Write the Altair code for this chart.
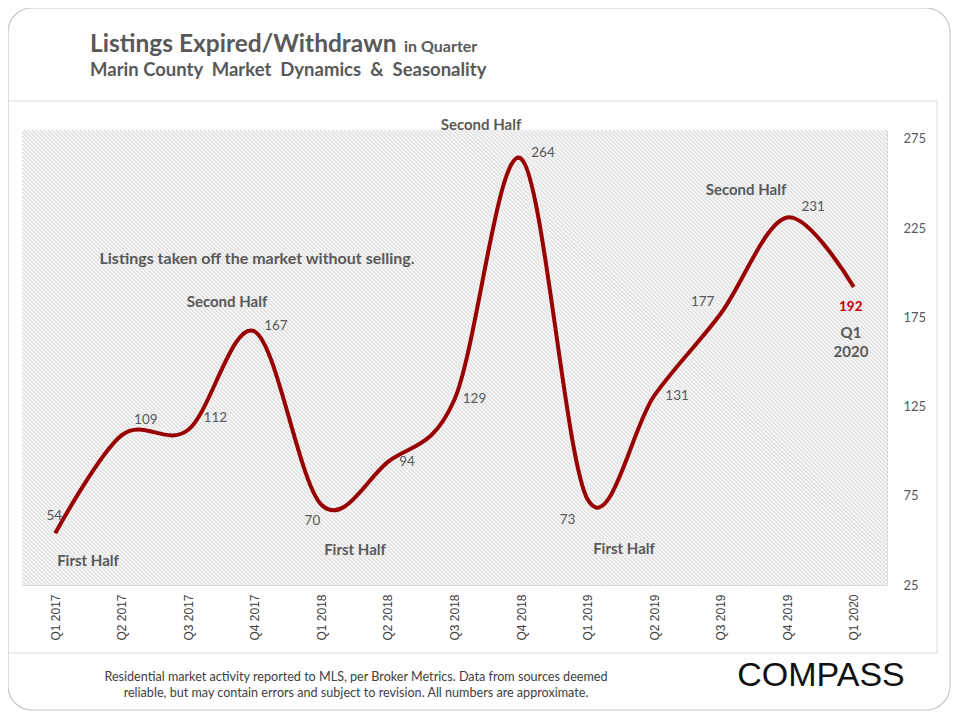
import altair as alt
import pandas as pd

# ---- data ----
quarters = ["Q1 2017", "Q2 2017", "Q3 2017", "Q4 2017", "Q1 2018", "Q2 2018", "Q3 2018",
            "Q4 2018", "Q1 2019", "Q2 2019", "Q3 2019", "Q4 2019", "Q1 2020"]
listings = [54, 109, 112, 167, 70, 94, 129, 264, 73, 131, 177, 231, 192]
y_ticks = [25, 75, 125, 175, 225, 275]

df = pd.DataFrame({"q": quarters, "v": listings})

# ---- layout constants (plot area in page px: x 22..887, y 130..585) ----
W, H = 865, 455
GRAY = "#595959"
RED = "#990000"
FONT = "Lato"

# label offsets (style) per point: dx, dy
label_offsets = [(-1, -17), (24, -15), (27, -12), (21, -6), (-9, 16), (19, 0), (20, 0),
                 (22, -6), (-20, 21), (23, 0), (-18, -12), (26, -10), (-3, 20)]

xscale = alt.Scale(domain=quarters, paddingInner=0, paddingOuter=0)
yscale = alt.Scale(domain=[25, 280], nice=False, zero=False)

one = alt.InlineData(values=[{"a": 1}])

# hatch background via striped linear gradient
N = 432
stops = []
for k in range(N):
    stops.append(alt.GradientStop(offset=k / N, color="#ffffff"))
    stops.append(alt.GradientStop(offset=(k + 0.5) / N, color="#dadada"))
stops.append(alt.GradientStop(offset=1.0, color="#ffffff"))
hatch_grad = alt.LinearGradient(gradient="linear", stops=stops, x1=0, y1=1, x2=1, y2=0)

hatch = alt.Chart(one).mark_rect(clip=True, fill=hatch_grad, strokeWidth=0).encode(
    x=alt.value(0), x2=alt.value(W), y=alt.value(0), y2=alt.value(W)
)

base = alt.Chart(df)

line = base.mark_line(interpolate="cardinal", tension=0, color=RED, strokeWidth=4).encode(
    x=alt.X("q:O", sort=None, scale=xscale, title=None,
            axis=alt.Axis(orient="bottom", labelAngle=270, labelPadding=9, ticks=False,
                          tickBand="extent", grid=True, gridColor="#d9d9d9", gridWidth=1,
                          domain=False, labelFont="Liberation Sans", labelFontSize=12,
                          labelColor="#404040", labelAlign="right", labelBaseline="middle")),
    y=alt.Y("v:Q", scale=yscale, title=None,
            axis=alt.Axis(orient="right", values=y_ticks, ticks=False, domain=False,
                          grid=True, gridColor="#d9d9d9", gridWidth=1, labelPadding=16,
                          labelFont=FONT, labelFontSize=13, labelColor=GRAY)),
)

labels = []
for i, (q, v) in enumerate(zip(quarters, listings)):
    dx, dy = label_offsets[i]
    last = i == len(quarters) - 1
    labels.append(
        alt.Chart(pd.DataFrame({"q": [q], "v": [v]})).mark_text(
            dx=dx, dy=dy, font=FONT, fontSize=13.5,
            color="#C00000" if last else GRAY,
            fontWeight="bold" if last else "normal",
        ).encode(x=alt.X("q:O", sort=None, scale=xscale),
                 y=alt.Y("v:Q", scale=yscale),
                 text=alt.Text("v:Q"))
    )

# annotations (page position minus plot origin)
annotations = [
    ("Second Half", 459, -5, 15),
    ("Listings taken off the market without selling.", 235, 129, 16),
    ("Second Half", 205, 172, 15),
    ("First Half", 66, 431, 15),
    ("First Half", 333, 420, 15),
    ("First Half", 602, 419, 15),
    ("Second Half", 724, 60, 15),
    ("Q1", 829, 203, 15),
    ("2020", 829, 222, 15),
]
ann_layers = [
    alt.Chart(one).mark_text(text=t, font=FONT, fontSize=s, fontWeight="bold",
                             color=GRAY, align="center", baseline="middle")
    .encode(x=alt.value(x), y=alt.value(y))
    for t, x, y, s in annotations
]

# frame and boxes
frame = alt.Chart(one).mark_rect(cornerRadius=24, fillOpacity=0, stroke="#c8c8c8",
                                 strokeWidth=1.2).encode(
    x=alt.value(-14), x2=alt.value(928), y=alt.value(-122), y2=alt.value(580))
inner = alt.Chart(one).mark_rect(fillOpacity=0, stroke="#d9d9d9", strokeWidth=1).encode(
    x=alt.value(-14), x2=alt.value(915), y=alt.value(-29), y2=alt.value(523))

title1 = alt.Chart(one).mark_text(text="Listings Expired/Withdrawn", font=FONT, fontSize=24.5,
                                  fontWeight="bold", color=GRAY, align="left",
                                  baseline="alphabetic").encode(
    x=alt.value(68), y=alt.value(-78))
title1b = alt.Chart(one).mark_text(text="in Quarter", font=FONT, fontSize=16,
                                   fontWeight="bold", color=GRAY, align="left",
                                   baseline="alphabetic").encode(
    x=alt.value(382), y=alt.value(-78))
title2 = alt.Chart(one).mark_text(
    text="Marin County\u00a0 Market\u00a0 Dynamics\u00a0 &\u00a0 Seasonality",
    font=FONT, fontSize=18.5, fontWeight="bold", color=GRAY,
    align="left", baseline="alphabetic").encode(
    x=alt.value(68), y=alt.value(-54))

foot1 = alt.Chart(one).mark_text(
    text="Residential market activity reported to MLS, per Broker Metrics. Data from sources deemed",
    font=FONT, fontSize=12.6, color="#404040", align="center", baseline="middle").encode(
    x=alt.value(334), y=alt.value(547))
foot2 = alt.Chart(one).mark_text(
    text="reliable, but may contain errors and subject to revision. All numbers are approximate.",
    font=FONT, fontSize=12.6, color="#404040", align="center", baseline="middle").encode(
    x=alt.value(334), y=alt.value(563))
logo = alt.Chart(one).mark_text(text="COMPASS", font="Liberation Sans", fontSize=34,
                                color="#111111", align="center", baseline="middle").encode(
    x=alt.value(799), y=alt.value(546))

chart = alt.layer(
    hatch, line, *labels, *ann_layers, frame, inner, title1, title1b, title2, foot1, foot2, logo
).properties(
    width=W, height=H,
    autosize=alt.AutoSizeParams(type="none"),
    padding={"left": 14, "top": 122, "right": 65, "bottom": 127},
).configure_view(stroke=None)

chart.save("out.html", embed_options={"renderer": "svg", "actions": False})
